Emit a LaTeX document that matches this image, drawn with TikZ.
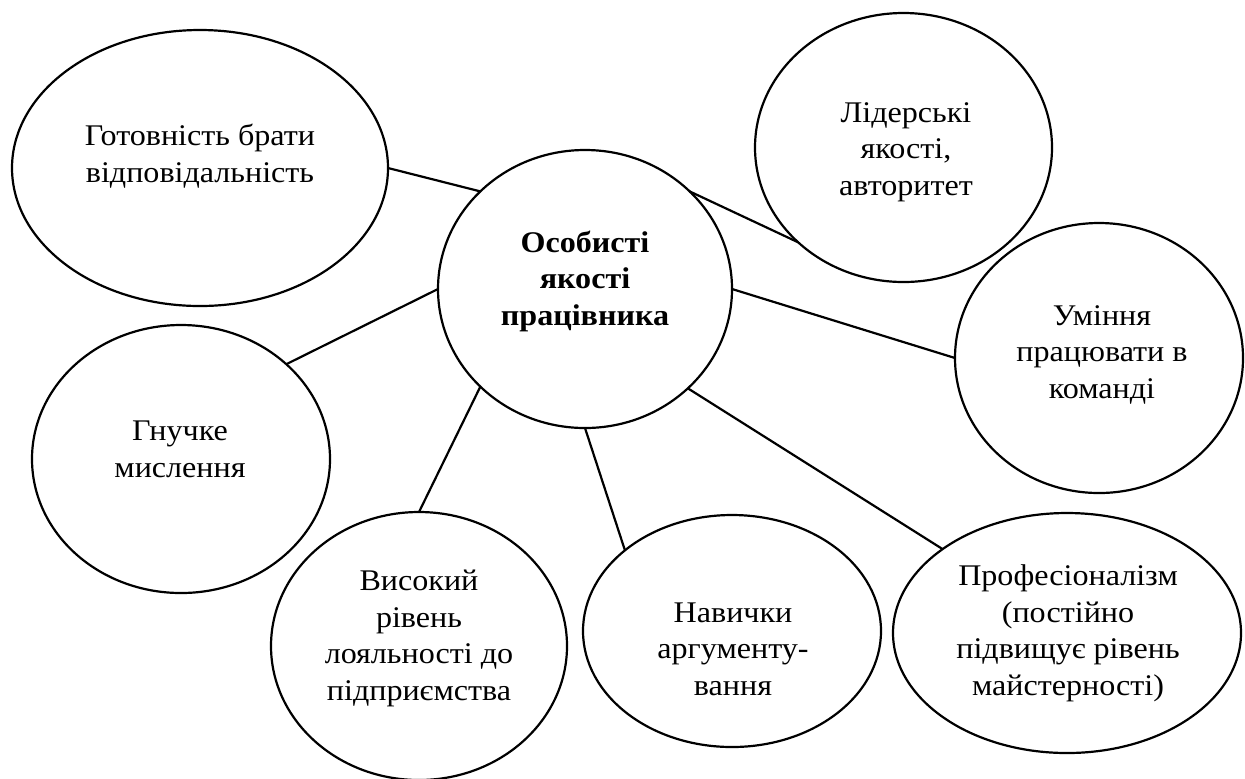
\documentclass[tikz,border=0pt]{standalone}
\usepackage{fontspec}
\setmainfont{Liberation Serif}[FakeStretch=1.07]
\usetikzlibrary{shapes.geometric}
\begin{document}
\begin{tikzpicture}[x=0.5pt,y=-0.5pt,
  bubble/.style={draw, ellipse, line width=1.1pt, inner sep=0pt, outer sep=0pt},
  txt/.style={align=center, inner sep=0pt, anchor=base, font=\fontsize{15}{18.25}\selectfont},
  link/.style={line width=1.1pt}]
\useasboundingbox (0,0) rectangle (1245,778);
% bubbles
\node[bubble, minimum width=147pt, minimum height=139pt] (c)  at (585,289) {};
\node[bubble, minimum width=188pt, minimum height=138pt] (tl) at (200,168) {};
\node[bubble, minimum width=148.5pt, minimum height=134.5pt] (ld) at (903.5,147.5) {};
\node[bubble, minimum width=144pt, minimum height=135pt] (um) at (1099,358) {};
\node[bubble, minimum width=149pt, minimum height=134pt] (gn) at (181,459) {};
\node[bubble, minimum width=148pt, minimum height=134pt] (vy) at (419,646) {};
\node[bubble, minimum width=149pt, minimum height=116pt] (nv) at (732,631) {};
\node[bubble, minimum width=174pt, minimum height=120pt] (pr) at (1067,633) {};
% texts (anchor = baseline of the last line)
\node[txt, font=\fontsize{15}{18.25}\selectfont\bfseries] (tc) at (585,325) {Особисті\\якості\\працівника};
\node[txt] (ttl) at (200,182) {Готовність брати\\відповідальність};
\node[txt] (tld) at (906,195) {Лідерські\\якості,\\авторитет};
\node[txt] (tum) at (1102,398) {Уміння\\працювати в\\команді};
\node[txt] (tgn) at (180,477) {Гнучке\\мислення};
\node[txt] (tvy) at (419,700) {Високий\\рівень\\лояльності до\\підприємства};
\node[txt] (tnv) at (733,695) {Навички\\аргументу-\\вання};
\node[txt] (tpr) at (1068,695) {Професіоналізм\\(постійно\\підвищує рівень\\майстерності)};
% connectors
\draw[link] (tl.east) -- (c.137);
\draw[link] (c.43) -- (ld.222);
\draw[link] (c.east) -- (um.west);
\draw[link] (c.west) -- (gn.42);
\draw[link] (c.223) -- (vy.north);
\draw[link] (c.south) -- (nv.143);
\draw[link] (c.316) -- (pr.146);
\end{tikzpicture}
\end{document}
